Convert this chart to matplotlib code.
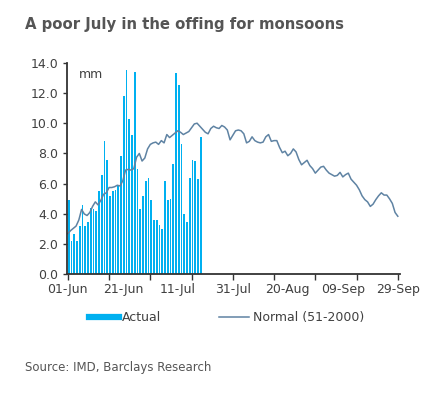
import matplotlib.pyplot as plt
from matplotlib.lines import Line2D

# daily rainfall, mm, from 01-Jun
actual = [4.9, 2.2, 2.7, 2.2, 3.2, 4.6, 3.2, 3.5, 4.4, 4.3,
          4.2, 5.5, 6.6, 8.8, 7.6, 5.2, 5.5, 5.6, 5.9, 7.8,
          11.8, 13.5, 10.3, 9.2, 13.4, 7.0, 4.3, 5.2, 6.2, 6.4,
          4.9, 3.6, 3.6, 3.3, 3.0, 6.2, 4.9, 5.0, 7.3, 13.3,
          12.5, 8.6, 4.0, 3.5, 6.4, 7.6, 7.5, 6.3, 9.1]

# normal (1951-2000), 01-Jun to 29-Sep
normal = [2.7, 2.9, 3.05, 3.2, 3.6, 4.3, 4.0, 3.9, 4.1, 4.5,
          4.8, 4.6, 4.9, 5.3, 5.4, 5.75, 5.75, 5.8, 5.9, 5.85,
          6.2, 6.9, 6.95, 6.9, 7.0, 7.75, 8.0, 7.5, 7.7, 8.3,
          8.6, 8.7, 8.75, 8.6, 8.85, 8.7, 9.25, 9.05, 9.2, 9.35,
          9.5, 9.4, 9.25, 9.35, 9.45, 9.7, 9.95, 10.0, 9.8, 9.6,
          9.4, 9.3, 9.65, 9.8, 9.7, 9.65, 9.85, 9.75, 9.55, 8.9,
          9.2, 9.5, 9.55, 9.5, 9.3, 8.7, 8.8, 9.1, 8.85, 8.75,
          8.7, 8.75, 9.1, 9.25, 8.8, 8.85, 8.85, 8.4, 8.05, 8.15,
          7.85, 8.0, 8.3, 8.1, 7.6, 7.25, 7.4, 7.55, 7.2, 7.0,
          6.7, 6.9, 7.1, 7.15, 6.9, 6.7, 6.6, 6.5, 6.55, 6.75,
          6.45, 6.6, 6.7, 6.3, 6.1, 5.9, 5.6, 5.2, 4.95, 4.8,
          4.5, 4.65, 4.95, 5.2, 5.4, 5.25, 5.25, 5.0, 4.7, 4.1,
          3.85]

date_labels = ["01-Jun", "21-Jun", "11-Jul", "31-Jul", "20-Aug", "09-Sep", "29-Sep"]
yticks = [0, 2, 4, 6, 8, 10, 12, 14]

bar_color = "#00B0F0"
line_color = "#5F83A3"
text_color = "#404040"

fig = plt.figure(figsize=(4.31, 3.94), dpi=100)
ax = fig.add_axes([0.1548, 0.3033, 0.7733, 0.5376])

ax.bar(range(len(actual)), actual, width=0.62, color=bar_color, align="edge", linewidth=0)
ax.plot(range(len(normal)), normal, color=line_color, lw=1.1)

ax.set_xlim(-0.4, 120.8)
ax.set_ylim(0, 14)

for s in ["top", "right"]:
    ax.spines[s].set_visible(False)
for s in ["left", "bottom"]:
    ax.spines[s].set_color("#333333")
    ax.spines[s].set_linewidth(1.3)

ax.set_yticks(yticks)
ax.set_yticklabels([f"{v:.1f}" for v in yticks])
ax.tick_params(axis="y", direction="out", length=3, width=1, color="#333333",
               labelsize=9, labelcolor=text_color, pad=3)

# ticks every 15 days, labels every 20 days
ax.xaxis.remove_overlapping_locs = False
ax.set_xticks(range(0, 121, 15))
ax.set_xticklabels([])
ax.set_xticks(range(0, 121, 20), minor=True)
ax.set_xticklabels(date_labels, minor=True)
ax.tick_params(axis="x", which="major", direction="out", length=4, width=1, color="#333333")
ax.tick_params(axis="x", which="minor", length=0, labelsize=9, labelcolor=text_color, pad=6)

ax.text(8.5, 13.2, "mm", fontsize=9, color=text_color, ha="center", va="center")

handles = [Line2D([], [], color=bar_color, lw=4.5),
           Line2D([], [], color=line_color, lw=1.1)]
fig.legend(handles, ["Actual", "Normal (51-2000)"], loc="center", ncol=2,
           bbox_to_anchor=(0.525, 0.193), frameon=False, fontsize=9,
           labelcolor=text_color, handlelength=2.4, handletextpad=0.3, columnspacing=4.6)

fig.text(25 / 431, 1 - 25 / 394, "A poor July in the offing for monsoons", fontsize=10.7,
         fontweight="bold", color="#555555", ha="left", va="center")
fig.text(25 / 431, 1 - 368 / 394, "Source: IMD, Barclays Research", fontsize=8.5,
         color="#555555", ha="left", va="center")

fig.savefig("out.png", dpi=100)
